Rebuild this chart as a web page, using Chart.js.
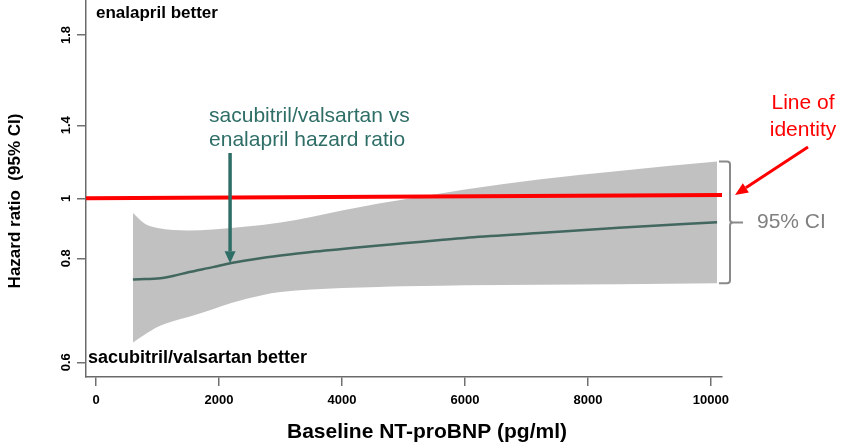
<!DOCTYPE html>
<html><head><meta charset="utf-8">
<script src="https://cdn.jsdelivr.net/npm/chart.js@4.4.1/dist/chart.umd.min.js"></script>
<style>html,body{margin:0;padding:0;background:#fff;}canvas{display:block;}</style>
</head><body>
<canvas id="c" width="846" height="448"></canvas>
<script>
// ---------------- data ----------------
const ntprobnp    = [600, 800, 1000, 1250, 1500, 1900, 2200, 2700, 3000, 3500, 4000, 4600, 5000, 5600, 6000, 7200, 8500, 10100];
const hazardRatio = [0.759,0.760,0.761,0.766,0.773,0.783,0.791,0.801,0.809,0.821,0.831,0.843,0.850,0.861,0.868,0.884,0.902,0.920];
const ciUpper     = [0.951,0.914,0.901,0.894,0.893,0.896,0.901,0.911,0.919,0.938,0.959,0.983,0.996,1.026,1.048,1.103,1.150,1.201];
const ciLower     = [0.638,0.654,0.668,0.679,0.687,0.702,0.714,0.729,0.735,0.740,0.743,0.745,0.746,0.747,0.748,0.749,0.750,0.752];
const identityX   = [-163, 10180];
const identityHR  = [1.0, 1.018];
const xTicks      = [0, 2000, 4000, 6000, 8000, 10000];
const yTicks      = [0.6, 0.8, 1, 1.4, 1.8];
const yTickLabels = ['0.6', '0.8', '1', '1.4', '1.8'];
const xRange      = [-163, 10180];
const yRangeHR    = [0.5717, 1.955];
// relative spacing of the printed hazard-ratio ticks on the original axis
const yTickSpacing = [0, 104, 164, 237, 327.3];

function toAxis(hr) {
  const a = yTicks, b = yTickSpacing, n = a.length;
  let i = 0;
  if (hr >= a[n - 1]) i = n - 2;
  else if (hr > a[0]) { while (hr > a[i + 1]) i++; }
  return b[i] + (hr - a[i]) * (b[i + 1] - b[i]) / (a[i + 1] - a[i]);
}
function interp(xs, ys, xv) {
  for (let i = 0; i < xs.length - 1; i++) {
    if (xv >= xs[i] && xv <= xs[i + 1]) return ys[i] + (ys[i + 1] - ys[i]) * (xv - xs[i]) / (xs[i + 1] - xs[i]);
  }
  return ys[ys.length - 1];
}
const toPts = (xs, ys) => xs.map((x, i) => ({ x: x, y: toAxis(ys[i]) }));

const F = '"Liberation Sans", Arial, sans-serif';

function arrow(ctx, x1, y1, x2, y2, color, w, hl, hw) {
  const ang = Math.atan2(y2 - y1, x2 - x1);
  const bx = x2 - hl * Math.cos(ang), by = y2 - hl * Math.sin(ang);
  ctx.strokeStyle = color; ctx.fillStyle = color; ctx.lineWidth = w;
  ctx.beginPath(); ctx.moveTo(x1, y1); ctx.lineTo(bx, by); ctx.stroke();
  ctx.beginPath();
  ctx.moveTo(x2, y2);
  ctx.lineTo(bx + hw / 2 * Math.sin(ang), by - hw / 2 * Math.cos(ang));
  ctx.lineTo(bx - hw / 2 * Math.sin(ang), by + hw / 2 * Math.cos(ang));
  ctx.closePath(); ctx.fill();
}

const annot = {
  id: 'annot',
  afterDraw(chart) {
    const { ctx, chartArea: ca } = chart;
    const xs = chart.scales.x, ys = chart.scales.y;
    ctx.save();
    ctx.textBaseline = 'middle';
    // region labels
    ctx.fillStyle = '#000'; ctx.textAlign = 'left';
    ctx.font = 'bold 17px ' + F;
    ctx.fillText('enalapril better', ca.left + 10, 13);
    ctx.font = 'bold 18px ' + F;
    ctx.fillText('sacubitril/valsartan better', ca.left + 2, 358);
    // axis titles
    ctx.textAlign = 'center';
    ctx.font = 'bold 21px ' + F;
    ctx.fillText('Baseline NT-proBNP (pg/ml)', 427, 432);
    ctx.save(); ctx.translate(15, 201); ctx.rotate(-Math.PI / 2);
    ctx.font = 'bold 17px ' + F;
    ctx.fillText('Hazard ratio  (95% CI)', 0, 0);
    ctx.restore();
    // green callout
    const axv = 2180;
    const ax = xs.getPixelForValue(axv);
    const tipY = ys.getPixelForValue(toAxis(interp(ntprobnp, hazardRatio, axv)));
    ctx.fillStyle = '#2e6e67'; ctx.textAlign = 'left';
    ctx.font = '21px ' + F;
    ctx.fillText('sacubitril/valsartan vs', ax - 21, 116);
    ctx.fillText('enalapril hazard ratio', ax - 21, 140);
    arrow(ctx, ax, 153, ax, tipY, '#2e6e67', 3.5, 12, 11);
    // red callout
    ctx.fillStyle = '#ff0000'; ctx.textAlign = 'center';
    ctx.fillText('Line of', 803, 103);
    ctx.fillText('identity', 803, 130);
    const idY = ys.getPixelForValue(toAxis(identityHR[1]));
    arrow(ctx, 808, 147, ca.right + 13, idY, '#ff0000', 3, 13, 11);
    // CI bracket
    const top = ys.getPixelForValue(toAxis(ciUpper[ciUpper.length - 1]));
    const bot = ys.getPixelForValue(toAxis(ciLower[ciLower.length - 1]));
    const mid = (top + bot) / 2;
    const bx = ca.right + 8;
    ctx.strokeStyle = '#8a8a8a'; ctx.lineWidth = 2;
    ctx.beginPath();
    ctx.moveTo(bx - 11, top); ctx.lineTo(bx - 3, top);
    ctx.quadraticCurveTo(bx, top, bx, top + 3);
    ctx.lineTo(bx, mid - 3);
    ctx.quadraticCurveTo(bx, mid, bx + 3, mid);
    ctx.quadraticCurveTo(bx, mid, bx, mid + 3);
    ctx.lineTo(bx, bot - 3);
    ctx.quadraticCurveTo(bx, bot, bx - 3, bot);
    ctx.lineTo(bx - 11, bot);
    ctx.moveTo(bx + 2, mid); ctx.lineTo(bx + 13, mid);
    ctx.stroke();
    ctx.fillStyle = '#808080'; ctx.textAlign = 'left';
    ctx.font = '21px ' + F;
    ctx.fillText('95% CI', 757, mid);
    ctx.restore();
  }
};

const gridOpts = { display: true, drawOnChartArea: false, drawTicks: true, tickLength: 9, color: '#707070', lineWidth: 1.5 };
const borderOpts = { display: true, color: '#6a6a6a', width: 1.5 };

new Chart(document.getElementById('c').getContext('2d'), {
  type: 'line',
  data: {
    datasets: [
      { label: 'Line of identity', data: toPts(identityX, identityHR), borderColor: '#ff0000', borderWidth: 4, pointRadius: 0, fill: false, order: 0 },
      { label: 'Hazard ratio', data: toPts(ntprobnp, hazardRatio), borderColor: '#41675f', borderWidth: 2.5, pointRadius: 0, fill: false, cubicInterpolationMode: 'monotone', order: 1 },
      { label: '95% CI upper', data: toPts(ntprobnp, ciUpper), borderColor: 'rgba(0,0,0,0)', borderWidth: 0, backgroundColor: '#c1c1c1', pointRadius: 0, fill: '+1', cubicInterpolationMode: 'monotone', order: 2 },
      { label: '95% CI lower', data: toPts(ntprobnp, ciLower), borderColor: 'rgba(0,0,0,0)', borderWidth: 0, pointRadius: 0, fill: false, cubicInterpolationMode: 'monotone', order: 3 }
    ]
  },
  options: {
    responsive: false, animation: false, devicePixelRatio: 1,
    layout: { padding: { left: 0, right: 124, top: 0, bottom: 0 } },
    plugins: { legend: { display: false }, tooltip: { enabled: false } },
    scales: {
      x: {
        type: 'linear', min: xRange[0], max: xRange[1],
        afterBuildTicks: s => { s.ticks = xTicks.map(v => ({ value: v })); },
        afterFit: s => { s.height = 71; s.paddingLeft = 0; s.paddingRight = 0; },
        grid: gridOpts, border: borderOpts,
        ticks: { autoSkip: false, maxRotation: 0, padding: 7, color: '#000', font: { family: F, size: 13, weight: 'bold' }, callback: v => String(v) }
      },
      y: {
        type: 'linear', min: toAxis(yRangeHR[0]), max: toAxis(yRangeHR[1]),
        afterBuildTicks: s => { s.ticks = yTicks.map(v => ({ value: toAxis(v) })); },
        afterFit: s => { s.width = 86; s.paddingTop = 0; s.paddingBottom = 0; },
        grid: gridOpts, border: borderOpts,
        ticks: { autoSkip: false, minRotation: 90, maxRotation: 90, crossAlign: 'center', padding: 2, color: '#000', font: { family: F, size: 13, weight: 'bold' }, callback: (v, i) => yTickLabels[i] }
      }
    }
  },
  plugins: [annot]
});
</script>
</body></html>
